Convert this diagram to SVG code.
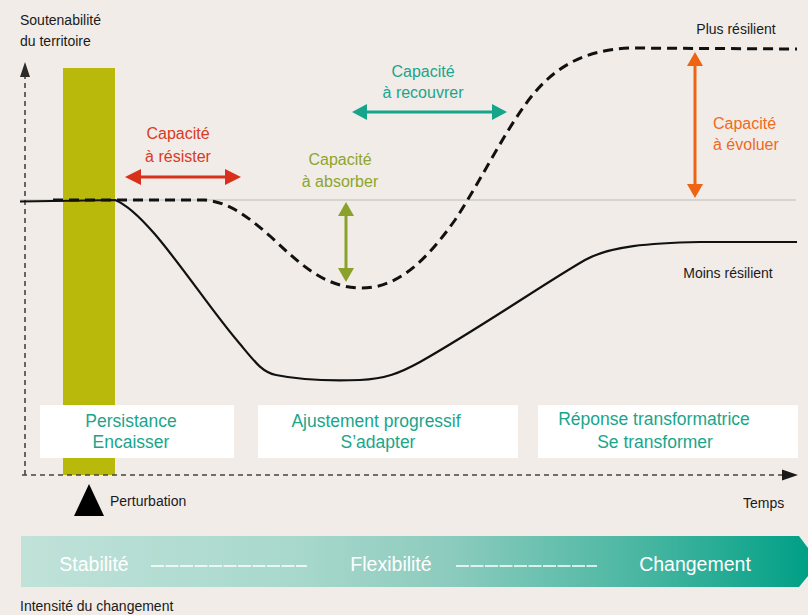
<svg xmlns="http://www.w3.org/2000/svg" width="808" height="615" viewBox="0 0 808 615">
  <defs>
    <linearGradient id="bandGrad" x1="0" y1="0" x2="1" y2="0">
      <stop offset="0" stop-color="#c0e2d9"/>
      <stop offset="0.35" stop-color="#a8d8cc"/>
      <stop offset="0.55" stop-color="#8bcbbd"/>
      <stop offset="0.8" stop-color="#45b5a0"/>
      <stop offset="1" stop-color="#00a086"/>
    </linearGradient>
  </defs>
  <style>
    text { font-family: "Liberation Sans", Arial, sans-serif; }
    .axis-label { font-size: 14px; fill: #1a1a1a; }
    .cap { font-size: 16px; text-anchor: middle; }
    .cap-left { font-size: 16px; text-anchor: start; }
    .phase { font-size: 17.5px; fill: #1aa58b; text-anchor: middle; }
    .band { font-size: 19.5px; fill: #ffffff; text-anchor: middle; }
    .axis { stroke: #444; stroke-width: 1.6; stroke-dasharray: 5 4; fill: none; }
    .box { fill: #ffffff; }
  </style>

  <rect width="808" height="615" fill="#f1ece8"/>

  <!-- disturbance period -->
  <rect id="disturbance-bar" x="63" y="68" width="52" height="407" fill="#b8b90b"/>

  <!-- reference level -->
  <line x1="20" y1="200" x2="796" y2="200" stroke="#bdbab6" stroke-width="1.2"/>

  <!-- axes -->
  <g id="axes">
    <line class="axis" x1="25" y1="475" x2="25" y2="76"/>
    <polygon points="25,62 20,77 30,77" fill="#2a2a2a"/>
    <line class="axis" x1="22" y1="475" x2="784" y2="475"/>
    <polygon points="798,475 782,469.5 782,480.5" fill="#1a1a1a"/>
    <text class="axis-label" x="20" y="25">Soutenabilité</text>
    <text class="axis-label" x="20" y="46">du territoire</text>
    <text class="axis-label" x="743" y="508">Temps</text>
    <text class="axis-label" x="20" y="611">Intensité du changement</text>
  </g>

  <!-- phase boxes -->
  <g id="phase-persistance">
    <rect class="box" x="40" y="405" width="194" height="53"/>
    <text class="phase" x="131" y="427">Persistance</text>
    <text class="phase" x="131" y="448">Encaisser</text>
  </g>
  <g id="phase-ajustement">
    <rect class="box" x="258" y="405" width="260" height="53"/>
    <text class="phase" x="376" y="427">Ajustement progressif</text>
    <text class="phase" x="378" y="448">S’adapter</text>
  </g>
  <g id="phase-transformation">
    <rect class="box" x="538" y="405" width="260" height="53"/>
    <text class="phase" x="654" y="425">Réponse transformatrice</text>
    <text class="phase" x="655" y="448">Se transformer</text>
  </g>

  <!-- trajectories -->
  <g id="connectors">
    <path id="less-resilient" d="M20,201.5 L115,200 C150,214 200,298 240,344 C255,362 262,372 276,375 C300,380 330,381 360,380 C385,379 400,373 420,362 C480,328 545,283 585,260 C610,246 650,243 700,242 L797,242" fill="none" stroke="#111" stroke-width="2.2"/>
    <path id="more-resilient" d="M53,200 L205,200 C228,202 246,215 270,236 C298,262 322,286 358,288 C398,290 428,258 455,220 C480,182 500,140 525,105 C550,70 580,50 630,48 L797,49" fill="none" stroke="#111" stroke-width="3" stroke-dasharray="10 6"/>

    <!-- capacity arrows -->
    <g id="arrow-resister" fill="#d7301b">
      <line x1="138" y1="177" x2="228" y2="177" stroke="#d7301b" stroke-width="3"/>
      <polygon points="125,177 141,169 141,185"/>
      <polygon points="241,177 225,169 225,185"/>
    </g>
    <g id="arrow-absorber" fill="#8aa22a">
      <line x1="346" y1="214" x2="346" y2="270" stroke="#8aa22a" stroke-width="3"/>
      <polygon points="346,202 338,216 354,216"/>
      <polygon points="346,282 338,268 354,268"/>
    </g>
    <g id="arrow-recouvrer" fill="#16a58b">
      <line x1="365" y1="112" x2="494" y2="112" stroke="#16a58b" stroke-width="3"/>
      <polygon points="352,112 367,104 367,120"/>
      <polygon points="507,112 492,104 492,120"/>
    </g>
    <g id="arrow-evoluer" fill="#ee6413">
      <line x1="695" y1="64" x2="695" y2="186" stroke="#ee6413" stroke-width="3"/>
      <polygon points="695,52 687,66 703,66"/>
      <polygon points="695,198 687,184 703,184"/>
    </g>
  </g>

  <!-- capacity labels -->
  <g id="label-resister" fill="#d83a24">
    <text class="cap" x="178" y="139">Capacité</text>
    <text class="cap" x="178" y="162">à résister</text>
  </g>
  <g id="label-absorber" fill="#8da52c">
    <text class="cap" x="340" y="165">Capacité</text>
    <text class="cap" x="340" y="187">à absorber</text>
  </g>
  <g id="label-recouvrer" fill="#1aa58c">
    <text class="cap" x="423" y="77">Capacité</text>
    <text class="cap" x="423" y="98">à recouvrer</text>
  </g>
  <g id="label-evoluer" fill="#ef6a1e">
    <text class="cap-left" x="713" y="129">Capacité</text>
    <text class="cap-left" x="713" y="150">à évoluer</text>
  </g>

  <g id="curve-labels">
    <text class="axis-label" x="736" y="34" text-anchor="middle">Plus résilient</text>
    <text class="axis-label" x="728" y="278" text-anchor="middle">Moins résilient</text>
  </g>

  <!-- disturbance marker -->
  <g id="perturbation">
    <polygon points="89,484 74,516 104,516" fill="#000"/>
    <text class="axis-label" x="110" y="506">Perturbation</text>
  </g>

  <!-- intensity band -->
  <g id="intensity-band">
    <polygon points="21,536 799,536 808,548 808,576 799,587 21,587" fill="url(#bandGrad)"/>
    <text class="band" x="94" y="571">Stabilité</text>
    <line x1="151" y1="566" x2="307" y2="566" stroke="#fff" stroke-width="1.5" stroke-dasharray="13 1.5"/>
    <text class="band" x="391" y="571">Flexibilité</text>
    <line x1="456" y1="566" x2="597" y2="566" stroke="#fff" stroke-width="1.5" stroke-dasharray="13 1.5"/>
    <text class="band" x="695" y="571">Changement</text>
  </g>
</svg>
